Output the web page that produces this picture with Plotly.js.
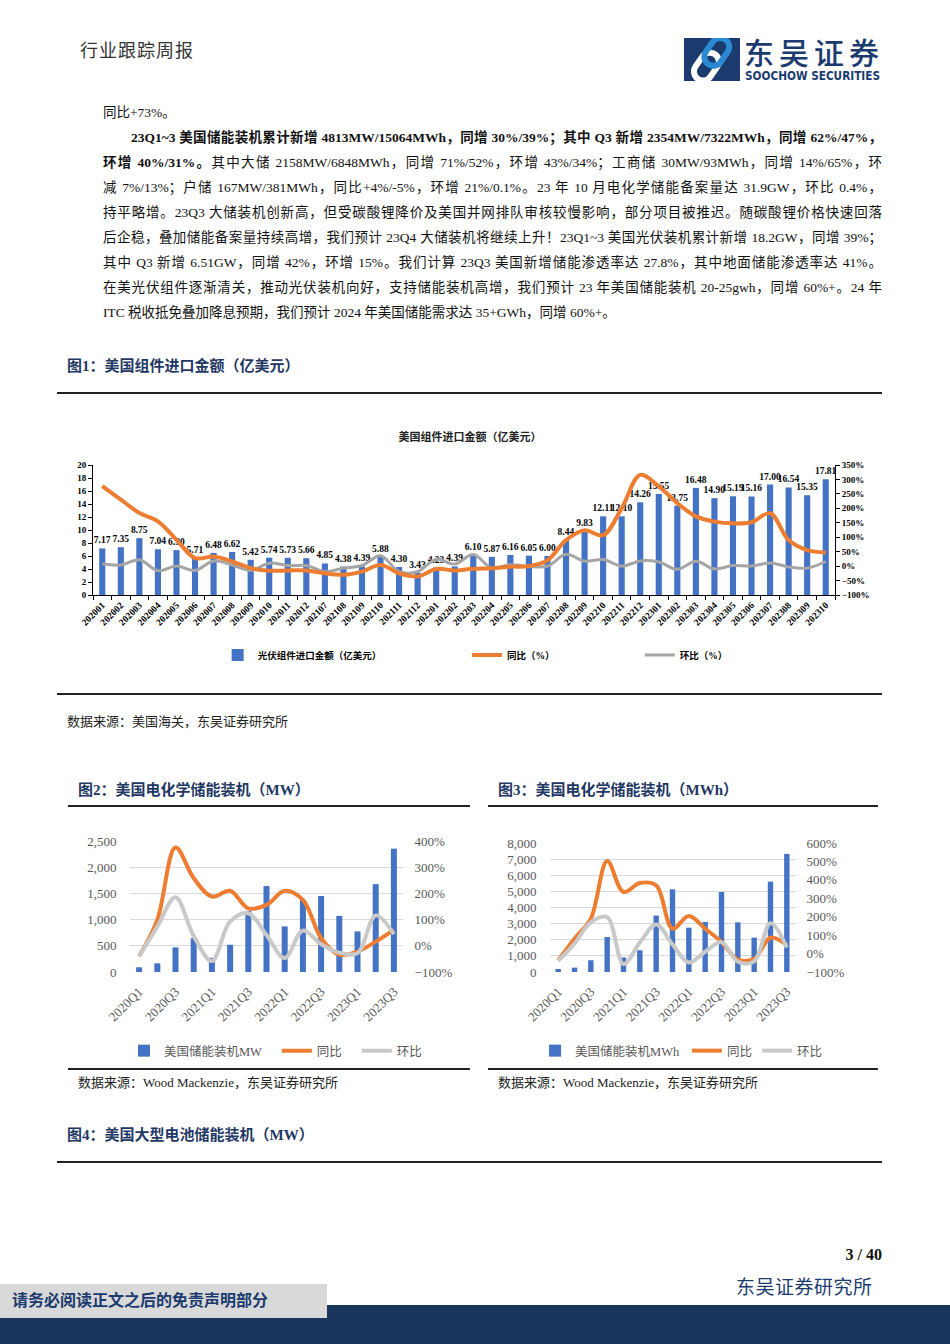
<!DOCTYPE html>
<html><head><meta charset="utf-8">
<script src="https://cdn.plot.ly/plotly-3.0.1.min.js"></script>
<style>
body{margin:0;width:950px;height:1344px;position:relative;background:#fff;overflow:hidden;font-family:"Liberation Serif","Noto Sans CJK SC",serif;color:#111}
.abs{position:absolute}
.ln{position:absolute;left:103px;width:779px;font-size:13.5px;line-height:25px;height:25px;text-align:justify;text-align-last:justify;color:#111}
.ln.last{text-align:left;text-align-last:left}
.b{font-weight:bold}
.ftitle{position:absolute;font-size:15px;font-weight:bold;color:#1F3864;line-height:20px;white-space:nowrap}
.src{position:absolute;font-size:13px;color:#222;line-height:18px;white-space:nowrap}
.rule{position:absolute;height:2px;background:#222}
</style></head>
<body>
<div class="abs" style="left:80px;top:40px;font-size:18px;color:#333;line-height:22px;letter-spacing:1px">行业跟踪周报</div>
<svg class="abs" style="left:684px;top:38px" width="56" height="43" viewBox="0 0 56 43">
 <rect width="56" height="43" fill="#1B3B6F"/>
 <g transform="rotate(-55 28 21.5)" fill="none" stroke-width="6">
  <rect x="4" y="12" width="30" height="18" rx="9" stroke="#FFFFFF"/>
  <rect x="22" y="12" width="30" height="18" rx="9" stroke="#2B8AD2"/>
 </g>
</svg>
<svg class="abs" style="left:744px;top:30px;overflow:visible" width="140" height="38">
 <text x="0" y="34" textLength="135" lengthAdjust="spacing" font-family="Noto Sans CJK SC" font-weight="500" font-size="30" fill="#1B3B6F">东吴证券</text>
</svg>
<svg class="abs" style="left:745px;top:69px" width="136" height="13">
 <text x="0" y="11" textLength="135" lengthAdjust="spacingAndGlyphs" font-family="Liberation Sans Narrow, DejaVu Sans Condensed, Liberation Sans" font-weight="bold" font-size="11.5" fill="#1B3B6F">SOOCHOW SECURITIES</text>
</svg>

<div class="ln last" style="top:100px">同比+73%。</div>
<div class="ln b" style="top:125px;left:131px;width:751px">23Q1~3 美国储能装机累计新增 4813MW/15064MWh，同增 30%/39%；其中 Q3 新增 2354MW/7322MWh，同增 62%/47%，</div>
<div class="ln" style="top:150px"><span class="b">环增 40%/31%。</span>其中大储 2158MW/6848MWh，同增 71%/52%，环增 43%/34%；工商储 30MW/93MWh，同增 14%/65%，环</div>
<div class="ln" style="top:175px">减 7%/13%；户储 167MW/381MWh，同比+4%/-5%，环增 21%/0.1%。23 年 10 月电化学储能备案量达 31.9GW，环比 0.4%，</div>
<div class="ln" style="top:200px">持平略增。23Q3 大储装机创新高，但受碳酸锂降价及美国并网排队审核较慢影响，部分项目被推迟。随碳酸锂价格快速回落</div>
<div class="ln" style="top:225px">后企稳，叠加储能备案量持续高增，我们预计 23Q4 大储装机将继续上升！23Q1~3 美国光伏装机累计新增 18.2GW，同增 39%；</div>
<div class="ln" style="top:250px">其中 Q3 新增 6.51GW，同增 42%，环增 15%。我们计算 23Q3 美国新增储能渗透率达 27.8%，其中地面储能渗透率达 41%。</div>
<div class="ln" style="top:275px">在美光伏组件逐渐清关，推动光伏装机向好，支持储能装机高增，我们预计 23 年美国储能装机 20-25gwh，同增 60%+。24 年</div>
<div class="ln last" style="top:300px">ITC 税收抵免叠加降息预期，我们预计 2024 年美国储能需求达 35+GWh，同增 60%+。</div>

<div class="ftitle" style="left:67px;top:356px">图1：美国组件进口金额（亿美元）</div>
<div class="rule" style="left:57px;top:392px;width:825px"></div>
<div id="c1" class="abs" style="left:60px;top:420px;width:840px;height:270px"></div>
<div class="rule" style="left:57px;top:693px;width:825px;height:1.5px"></div>
<div class="src" style="left:67px;top:713px">数据来源：美国海关，东吴证券研究所</div>

<div class="ftitle" style="left:78px;top:780px">图2：美国电化学储能装机（MW）</div>
<div class="rule" style="left:68px;top:805px;width:402px"></div>
<div id="c2" class="abs" style="left:60px;top:815px;width:420px;height:255px"></div>
<div class="rule" style="left:68px;top:1068px;width:402px"></div>
<div class="src" style="left:78px;top:1074px">数据来源：Wood Mackenzie，东吴证券研究所</div>

<div class="ftitle" style="left:498px;top:780px">图3：美国电化学储能装机（MWh）</div>
<div class="rule" style="left:488px;top:805px;width:390px"></div>
<div id="c3" class="abs" style="left:480px;top:815px;width:420px;height:255px"></div>
<div class="rule" style="left:488px;top:1068px;width:390px"></div>
<div class="src" style="left:498px;top:1074px">数据来源：Wood Mackenzie，东吴证券研究所</div>

<div class="ftitle" style="left:67px;top:1125px">图4：美国大型电池储能装机（MW）</div>
<div class="rule" style="left:57px;top:1161px;width:825px"></div>

<div class="abs" style="left:820px;top:1245px;width:62px;text-align:right;font-size:16px;font-weight:bold;line-height:20px">3 / 40</div>
<div class="abs" style="left:736px;top:1276px;font-size:19px;line-height:24px;color:#1B3B6F;letter-spacing:0.5px">东吴证券研究所</div>
<div class="abs" style="left:0;top:1305px;width:950px;height:39px;background:#1B365D"></div>
<div class="abs" style="left:0;top:1284px;width:327px;height:34px;background:#D9D9D9"></div>
<div class="abs" style="left:12px;top:1290px;font-size:16px;line-height:22px;color:#1B3B6F;font-weight:bold">请务必阅读正文之后的免责声明部分</div>

<script>
// fit each justified body line on one line
document.querySelectorAll('.ln').forEach(el=>{
  const w = el.clientWidth;
  const s = document.createElement('span');
  s.innerHTML = el.innerHTML;
  s.style.cssText = 'position:absolute;visibility:hidden;white-space:nowrap;left:0;top:0';
  el.appendChild(s);
  const nw = s.getBoundingClientRect().width;
  el.removeChild(s);
  if (nw > w - 3) {
    const n = el.textContent.length;
    el.style.letterSpacing = ((w - 4 - nw) / n).toFixed(3) + 'px';
  }
});

// ---- Data: Figure 1 (monthly US module imports) ----
const months = ['202001','202002','202003','202004','202005','202006','202007','202008','202009','202010','202011','202012',
  '202107','202108','202109','202110','202111','202112',
  '202201','202202','202203','202204','202205','202206','202207','202208','202209','202210','202211','202212',
  '202301','202302','202303','202304','202305','202306','202307','202308','202309','202310'];
const importValue = [7.17,7.35,8.75,7.04,6.90,5.71,6.48,6.62,5.42,5.74,5.73,5.66,
  4.85,4.38,4.39,5.88,4.30,3.43,
  4.23,4.39,6.10,5.87,6.16,6.05,6.00,8.44,9.83,12.11,12.10,14.26,
  15.55,13.75,16.48,14.90,15.19,15.16,17.00,16.54,15.35,17.81];
const importYoy = [277,230,184,155,91,28,33,16,-7,-16,-15,-15,
  -25,-30,-19,4,-25,-36,
  -10,-15,-9,-7,-2,0,20,90,124,107,200,316,
  276,218,172,154,148,152,183,90,55,47];
const importMom = [7,4,22,-16,0,-15,18,4,-15,10,2,2,
  -19,-7,2,36,-19,-19,
  24,7,40,-7,5,-1,0,41,17,23,0,18,
  14,-11,17,-10,2,0,11,-3,-7,16];

// ---- Data: Figures 2 & 3 (quarterly US storage installs) ----
const quarters = ['2020Q1','2020Q2','2020Q3','2020Q4','2021Q1','2021Q2','2021Q3','2021Q4',
  '2022Q1','2022Q2','2022Q3','2022Q4','2023Q1','2023Q2','2023Q3'];
const storageMW = [90,165,470,645,270,520,1165,1640,870,1373,1450,1070,775,1677,2354];
const storageMWYoy = [-40,99,375,258,188,210,143,156,210,175,29,-34,-22,16,61];
const storageMWQoq = [-40,73,185,37,-58,93,124,41,-47,58,6,-26,-28,116,44];
const storageMWh = [190,270,730,2170,900,1350,3500,5126,2749,3100,4960,3080,2129,5601,7322];
const storageMWhYoy = [-37,81,190,502,334,383,370,135,204,135,63,-33,-28,86,47];
const storageMWhQoq = [-40,54,170,197,-57,60,158,50,-48,10,62,-44,-42,165,33];

const F = '"Liberation Serif", "Noto Sans CJK SC", serif';
const BLUE = '#4472C4', ORANGE = '#ED7D31';
const cfg = {displayModeBar:false, staticPlot:true};

// ---- Figure 1 ----
(function(){
  const H = 270;
  const traces = [
    {type:'bar', x:months, y:importValue, name:'光伏组件进口金额（亿美元）', legend:'legend',
     marker:{color:BLUE}, text:importValue.map(v=>v.toFixed(2)), textposition:'outside',
     textfont:{family:F, size:9.5, color:'#000', weight:'bold'}, cliponaxis:false, constraintext:'none', textangle:0},
    {type:'scatter', mode:'lines', x:months, y:importMom, yaxis:'y2', name:'环比（%）', legend:'legend3',
     line:{color:'#A5A5A5', width:3, shape:'spline'}},
    {type:'scatter', mode:'lines', x:months, y:importYoy, yaxis:'y2', name:'同比（%）', legend:'legend2',
     line:{color:ORANGE, width:4, shape:'spline'}}
  ];
  const lg = (x)=>({orientation:'h', x:x, xanchor:'left', xref:'paper', y:1-(655-420)/H, yref:'container',
     yanchor:'middle', bgcolor:'rgba(0,0,0,0)', font:{family:F, size:9.5, color:'#000', weight:'bold'}});
  const layout = {
    width:840, height:H, margin:{l:33, r:65, t:45, b:95},
    paper_bgcolor:'rgba(0,0,0,0)', plot_bgcolor:'rgba(0,0,0,0)',
    font:{family:F, size:9, color:'#000', weight:'bold'},
    title:{text:'美国组件进口金额（亿美元）', font:{family:F, size:11, color:'#222', weight:'bold'},
      x:0.508, xref:'paper', xanchor:'center', y:1-17/H, yref:'container', yanchor:'middle'},
    bargap:0.67,
    xaxis:{type:'category', tickangle:-45, ticks:'outside', ticklen:4, tickson:'boundaries', showline:true,
      linecolor:'#000', linewidth:1, tickcolor:'#000', showgrid:false, tickfont:{size:9.5, weight:'bold'}},
    yaxis:{range:[0,20], dtick:2, showline:true, linecolor:'#000', ticks:'outside', ticklen:4, tickcolor:'#000',
      showgrid:false, zeroline:false, tickfont:{size:9, weight:'bold'}},
    yaxis2:{overlaying:'y', side:'right', range:[-100,350], dtick:50, ticksuffix:'%', showline:true, linecolor:'#000',
      ticks:'outside', ticklen:4, tickcolor:'#000', showgrid:false, zeroline:false, tickfont:{size:9, weight:'bold'}},
    showlegend:true,
    legend:lg(0.168), legend2:lg(0.504), legend3:lg(0.737)
  };
  Plotly.newPlot('c1', traces, layout, cfg);
})();

// ---- Figures 2 & 3 ----
function storageChart(id, vals, yoy, qoq, barName, leftMax, leftDtick, rightMax, mr, mt, legX){
  const H = 255;
  const traces = [
    {type:'bar', x:quarters, y:vals, name:barName, legend:'legend', marker:{color:BLUE}},
    {type:'scatter', mode:'lines', x:quarters, y:yoy, yaxis:'y2', name:'同比', legend:'legend2',
     line:{color:ORANGE, width:4, shape:'spline'}},
    {type:'scatter', mode:'lines', x:quarters, y:qoq, yaxis:'y2', name:'环比', legend:'legend3',
     line:{color:'#C9C9C9', width:4, shape:'spline'}}
  ];
  const lg = (x)=>({orientation:'h', x:x, xanchor:'left', xref:'paper', y:1-(1051-815)/H, yref:'container',
     yanchor:'middle', bgcolor:'rgba(0,0,0,0)', font:{family:F, size:12.5, color:'#595959'}});
  const layout = {
    width:420, height:H, margin:{l:70, r:mr, t:mt, b:98},
    paper_bgcolor:'rgba(0,0,0,0)', plot_bgcolor:'rgba(0,0,0,0)',
    font:{family:F, size:13, color:'#595959'},
    bargap:0.67,
    xaxis:{type:'category', tickmode:'array', tickvals:quarters.filter((q,i)=>i%2===0), tickangle:-45,
      showline:false, showgrid:false, ticks:'outside', ticklen:6, tickcolor:'rgba(0,0,0,0)'},
    yaxis:{range:[0,leftMax], dtick:leftDtick, tickformat:',', gridcolor:'#D9D9D9', gridwidth:1, zeroline:false,
      showline:false, ticks:'outside', ticklen:10, tickcolor:'rgba(0,0,0,0)'},
    yaxis2:{overlaying:'y', side:'right', range:[-100,rightMax], dtick:100, ticksuffix:'%', showgrid:false,
      zeroline:false, showline:false, ticks:'outside', ticklen:8, tickcolor:'rgba(0,0,0,0)'},
    showlegend:true,
    legend:lg(legX[0]), legend2:lg(legX[1]), legend3:lg(legX[2])
  };
  Plotly.newPlot(id, traces, layout, cfg);
}
storageChart('c2', storageMW, storageMWYoy, storageMWQoq, '美国储能装机MW', 2500, 500, 400, 77, 26,
  [-0.022, 0.538, 0.831]);
storageChart('c3', storageMWh, storageMWhYoy, storageMWhQoq, '美国储能装机MWh', 8000, 1000, 600, 105, 28,
  [-0.061, 0.559, 0.845]);
</script>
</body></html>
